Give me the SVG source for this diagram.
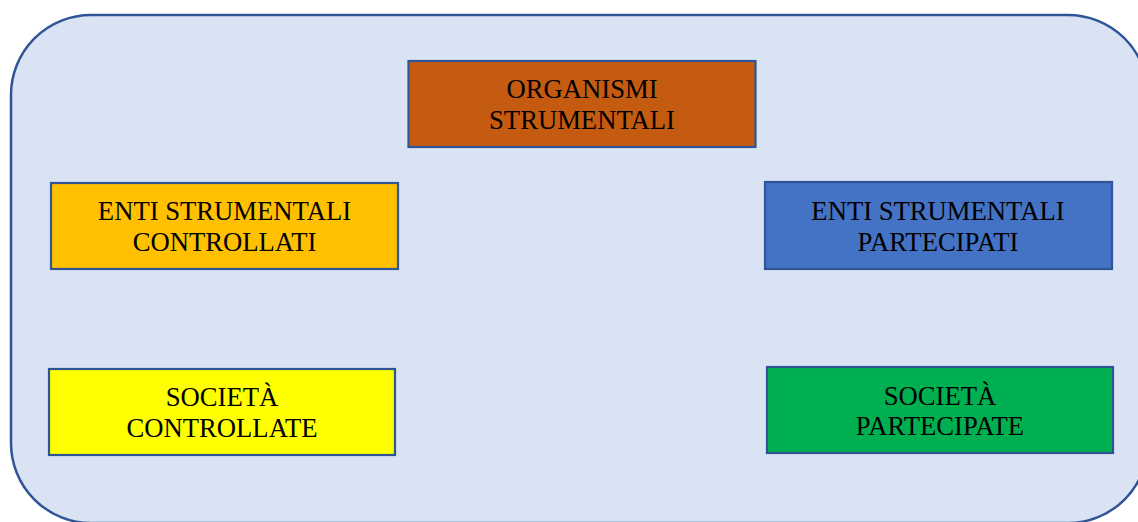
<svg xmlns="http://www.w3.org/2000/svg" width="1138" height="522" viewBox="0 0 1138 522">
  <style>
    .box { stroke: #2F5597; stroke-width: 2.2; }
    .lbl { font-family: "Liberation Serif", "Times New Roman", serif; font-size: 26.67px; fill: #000000; text-anchor: middle; }
  </style>
  <rect x="0" y="0" width="1138" height="522" fill="#FFFFFF"/>
  <g id="container">
    <rect x="11" y="15" width="1137" height="508" rx="80" ry="80" fill="#DAE3F3" stroke="#2F5597" stroke-width="2.5"/>
  </g>
  <g id="organismi-strumentali">
    <rect class="box" x="408.5" y="61" width="347" height="86" fill="#C55A11"/>
    <text class="lbl" x="582" y="97.5">ORGANISMI</text>
    <text class="lbl" x="582" y="129">STRUMENTALI</text>
  </g>
  <g id="enti-strumentali-controllati">
    <rect class="box" x="51" y="183" width="347" height="86" fill="#FFC000"/>
    <text class="lbl" x="224.5" y="220">ENTI STRUMENTALI</text>
    <text class="lbl" x="224.5" y="251">CONTROLLATI</text>
  </g>
  <g id="enti-strumentali-partecipati">
    <rect class="box" x="765" y="182" width="347" height="87" fill="#4472C4"/>
    <text class="lbl" x="938" y="220">ENTI STRUMENTALI</text>
    <text class="lbl" x="938" y="251">PARTECIPATI</text>
  </g>
  <g id="societa-controllate">
    <rect class="box" x="49" y="369" width="346" height="86" fill="#FFFF00"/>
    <text class="lbl" x="222" y="406">SOCIETÀ</text>
    <text class="lbl" x="222" y="437">CONTROLLATE</text>
  </g>
  <g id="societa-partecipate">
    <rect class="box" x="767" y="367" width="346" height="86" fill="#00B050"/>
    <text class="lbl" x="940" y="405">SOCIETÀ</text>
    <text class="lbl" x="940" y="435">PARTECIPATE</text>
  </g>
  <g id="connectors"></g>
</svg>
